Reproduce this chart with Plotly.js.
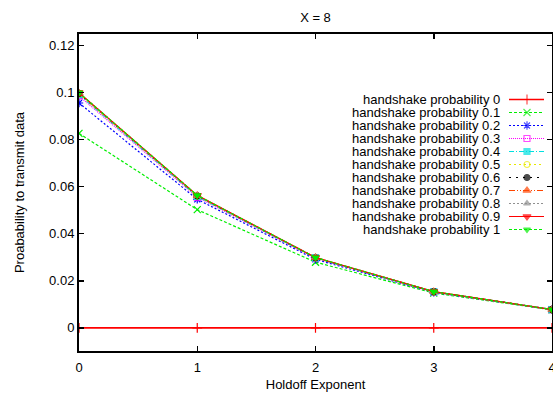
<!DOCTYPE html>
<html>
<head>
<meta charset="utf-8">
<script src="https://cdn.plot.ly/plotly-3.0.1.min.js"></script>
<style>html,body{margin:0;padding:0;background:#fff;}#chart{width:553px;height:393px;}</style>
</head>
<body>
<div id="chart"></div>
<script>
// ---- data ----
const holdoffExponent = [0, 1, 2, 3, 4];
const seriesNames = ["handshake probability 0", "handshake probability 0.1", "handshake probability 0.2",
  "handshake probability 0.3", "handshake probability 0.4", "handshake probability 0.5",
  "handshake probability 0.6", "handshake probability 0.7", "handshake probability 0.8",
  "handshake probability 0.9", "handshake probability 1"];
const hp0   = [0, 0, 0, 0, 0];
const hp0_1 = [0.0826, 0.0502, 0.0279, 0.0148, 0.0077];
const hp0_2 = [0.0955, 0.0546, 0.0291, 0.0151, 0.0078];
const hp0_3 = [0.0985, 0.0555, 0.0296, 0.0152, 0.0078];
const hp0_4 = [0.0991, 0.0558, 0.0297, 0.0153, 0.0078];
const hp0_5 = [0.0994, 0.0560, 0.0298, 0.0153, 0.0078];
const hp0_6 = [0.0996, 0.0561, 0.0298, 0.0154, 0.0078];
const hp0_7 = [0.0997, 0.0562, 0.0299, 0.0154, 0.0078];
const hp0_8 = [0.0998, 0.0562, 0.0299, 0.0154, 0.0078];
const hp0_9 = [0.0999, 0.0563, 0.0299, 0.0154, 0.0078];
const hp1   = [0.0999, 0.0563, 0.0299, 0.0154, 0.0078];
const seriesValues = [hp0, hp0_1, hp0_2, hp0_3, hp0_4, hp0_5, hp0_6, hp0_7, hp0_8, hp0_9, hp1];
const xTicks = [0, 1, 2, 3, 4];
const yTicks = [0, 0.02, 0.04, 0.06, 0.08, 0.1, 0.12];

// ---- styles ----
const styles = [
  {color: "#ff0000", dash: "solid", symbol: "cross-thin-open", size: 7},
  {color: "#00ee00", dash: "3px,2px", symbol: "x-thin-open", size: 7},
  {color: "#0000ff", dash: "2px,2px", symbol: "asterisk-open", size: 7},
  {color: "#ff00ff", dash: "1px,1px", symbol: "square-open", size: 6},
  {color: "#00e0e0", dash: "5px,2px,1px,2px", symbol: "square", size: 6},
  {color: "#e8e800", dash: "2px,3px", symbol: "circle-open", size: 6},
  {color: "#000000", dash: "2px,5px", symbol: "circle", size: 6},
  {color: "#ff4500", dash: "6px,2px,1px,2px,1px,2px", symbol: "triangle-up", size: 7},
  {color: "#909090", dash: "2px,2px", symbol: "triangle-up", size: 6},
  {color: "#ff0000", dash: "solid", symbol: "triangle-down", size: 7},
  {color: "#00ee00", dash: "3px,2px", symbol: "triangle-down", size: 6}
];

const FONT = "Liberation Sans, Arial, Helvetica, sans-serif";
const traces = [];
seriesValues.forEach((vals, i) => {
  const s = styles[i];
  traces.push({
    x: holdoffExponent, y: vals, type: "scatter", mode: "lines+markers",
    name: seriesNames[i], showlegend: false, cliponaxis: true,
    line: {color: s.color, width: i === 0 ? 1.6 : 1.2, dash: s.dash},
    marker: {symbol: s.symbol, size: s.size, color: s.color, line: {color: s.color, width: 1.2}}
  });
});

// legend drawn on an overlay pixel-space axis
const legTextRight = 501, legX0 = 509, legXm = 527, legX1 = 544, legY0 = 99.5, legDy = 13;
const annotations = [];
seriesNames.forEach((nm, i) => {
  const s = styles[i];
  const yy = legY0 + legDy * i;
  traces.push({
    x: [legX0, legXm, legX1], y: [yy, yy, yy], xaxis: "x2", yaxis: "y2",
    type: "scatter", mode: "lines+markers", showlegend: false, hoverinfo: "skip",
    line: {color: s.color, width: i === 0 ? 1.6 : 1.2, dash: s.dash},
    marker: {symbol: s.symbol, size: [0, s.size, 0], color: s.color, line: {color: s.color, width: 1.2}}
  });
  annotations.push({
    x: legTextRight, y: yy, xref: "x2", yref: "y2", text: nm, showarrow: false, borderpad: 0,
    xanchor: "right", yanchor: "middle", font: {family: FONT, size: 13, color: "#000"}
  });
});

const layout = {
  width: 553, height: 393,
  margin: {l: 79, r: 1, t: 34, b: 42, pad: 0},
  paper_bgcolor: "#fff", plot_bgcolor: "#fff",
  font: {family: FONT, size: 13, color: "#000"},
  showlegend: false,
  title: {text: "X = 8", x: 0.5705, xanchor: "center", y: 0.955, yanchor: "middle", font: {family: FONT, size: 13}},
  xaxis: {
    range: [0, 4], tickvals: xTicks, ticks: "inside", ticklen: 5, tickwidth: 1.5, tickcolor: "#000",
    showline: true, linecolor: "#000", linewidth: 2, mirror: "ticks", showgrid: false, zeroline: false,
    ticklabelstandoff: 3, ticklabeloverflow: "allow",
    tickfont: {family: FONT, size: 13}, title: {text: "Holdoff Exponent", standoff: 6, font: {family: FONT, size: 13}}
  },
  yaxis: {
    range: [-0.0098, 0.1248], tickvals: yTicks, ticks: "inside", ticklen: 5, tickwidth: 1.5, tickcolor: "#000",
    showline: true, linecolor: "#000", linewidth: 2, mirror: "ticks", showgrid: false, zeroline: false,
    tickfont: {family: FONT, size: 13}, title: {text: "Proabability to transmit data", standoff: 22, font: {family: FONT, size: 13}}
  },
  xaxis2: {overlaying: "x", range: [79, 552], visible: false, fixedrange: true},
  yaxis2: {overlaying: "y", range: [351, 34], visible: false, fixedrange: true},
  annotations: annotations
};

Plotly.newPlot("chart", traces, layout, {staticPlot: true, displayModeBar: false});
</script>
</body>
</html>
